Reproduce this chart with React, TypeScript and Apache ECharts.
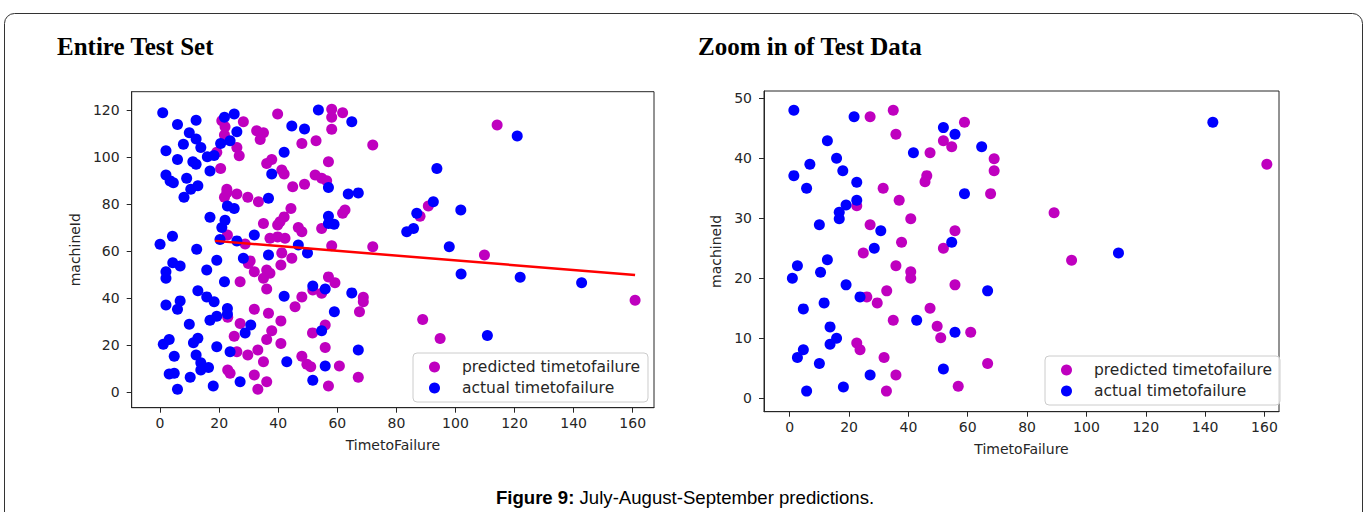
import React, { useEffect, useRef } from "react";
import * as echarts from "echarts";

// ---------- data ----------
const seriesNames = ["predicted timetofailure", "actual timetofailure"];
const xAxisName = "TimetoFailure";
const yAxisName = "machineId";
const leftTitle = "Entire Test Set";
const rightTitle = "Zoom in of Test Data";
const captionBold = "Figure 9:";
const captionText = " July-August-September predictions.";

const xTicks = [0, 20, 40, 60, 80, 100, 120, 140, 160];
const leftYTicks = [0, 20, 40, 60, 80, 100, 120];
const rightYTicks = [0, 10, 20, 30, 40, 50];

const leftPredicted = [
  [20.9, 115.5], [22, 112.9], [28.2, 115], [39.8, 118.3], [21.8, 109.4], [32.7, 111.2], [35, 110.4],
  [33.9, 107.5], [26, 104.1], [26.8, 100.6], [48, 105.8], [19.2, 102.1], [37.8, 99], [36.1, 97.3],
  [20.5, 95.2], [41.2, 94.5], [42, 92.8], [44.9, 87.4], [48.9, 88.5], [22.6, 86.3], [21.8, 82.9],
  [22.6, 84.9], [26, 84.3], [29.7, 82.9], [33.3, 81], [44.3, 78.2], [42, 74.6], [40.6, 72.5],
  [39.8, 71.1], [35, 71.8], [46.8, 70.1], [48, 68.3], [22.8, 66.9], [37.2, 65.5], [39.8, 66.1],
  [42.3, 65.5], [28.8, 63.1],
  [30.5, 55.9], [29.9, 54.8], [41.2, 59.3], [44.6, 57], [40.9, 54.1], [31.9, 51.3], [36.1, 52],
  [37.2, 50.6], [35, 48.5], [27.1, 47], [36.1, 43.9], [48, 40.6], [45.7, 36.4], [31.9, 35.3],
  [36.7, 33.6], [22.9, 31.9], [27.1, 29.3], [40.9, 30.4], [37.8, 26.2], [25.1, 23.9], [36.1, 22.5],
  [40.9, 20.8], [26, 17.3], [29.7, 15.9], [33.1, 18], [35, 13], [48, 15.4], [49.7, 12], [22.9, 9.5],
  [23.7, 8.1], [31.9, 7.4], [36.1, 4.5], [33.1, 1.3],
  [58.1, 120.3], [58.1, 116.9], [61.8, 118.9], [58.1, 111.8], [52.8, 107], [72, 105.1], [57, 98],
  [52.5, 92.4], [54.7, 91], [56.4, 90], [62.6, 77.5], [61.8, 76.1], [54.7, 69.7], [90.8, 79.2],
  [88, 74.9], [58.1, 62.3], [72, 61.9],
  [109.8, 58.4], [160.8, 39.2], [57, 49.1], [59.2, 46.6], [51.7, 43.5], [54.7, 42.1], [68.8, 40.4],
  [68.8, 38.5], [67.5, 34.3], [88.9, 31], [94.8, 22.9], [55.9, 28.6], [51.6, 25.3], [55.9, 19.1],
  [51, 10.9], [60.7, 11.2], [57, 2.7], [67.1, 6.4], [114.1, 113.6],
];

const leftActual = [
  [0.9, 118.9], [5.9, 113.9], [12.2, 115.7], [21.8, 116.9], [25.1, 118.3], [44.6, 113.2], [48.9, 111.9],
  [9.9, 110.4], [12.2, 107.7], [26, 110.8], [7.9, 105.5], [13.8, 104.1], [20.5, 105.8], [23.7, 107],
  [2, 102.7], [42, 102.1], [16, 100.2], [18.3, 100.7], [5.9, 99], [11.1, 98], [12.2, 97], [16.9, 94.1],
  [37.8, 92.8], [2, 92.4], [3.4, 89.9], [4.5, 89.1], [9, 91], [12.8, 87.8], [10.4, 86.3], [8.1, 82.9],
  [36.7, 82.5], [22.8, 79.2], [25.1, 78.2], [16.9, 74.4], [22, 73.2], [20.9, 70.1], [31.9, 66.9],
  [4.2, 66.4], [0, 63], [20.3, 65], [26, 64.4], [12.4, 60.8], [46.8, 62.6],
  [19.2, 56.2], [28.2, 57], [36.7, 58.4], [4.3, 55.1], [6.8, 53.7], [2, 51.3], [2, 48.5], [15.8, 52],
  [21.8, 47], [12.8, 43.2], [15.8, 40.6], [18.3, 38.5], [42, 40.9], [2, 37.1], [6.8, 38.9], [5.9, 35.3],
  [22.8, 35.7], [22.8, 33.3], [19.2, 32.4], [16.9, 30.7], [9.9, 29], [30.7, 28.6], [28.8, 25.3],
  [3.1, 22.5], [1.1, 20.5], [12.8, 23], [11.3, 21.1], [19.2, 19.4], [23.7, 17.3], [4.8, 15.4],
  [12.2, 15.9], [13.8, 12.6], [16.4, 10.6], [13.8, 9.5], [42.9, 13], [3.1, 7.8], [4.8, 8.1], [10.2, 6.4],
  [27.1, 4.5], [5.9, 1.3], [18, 2.7],
  [53.6, 120], [64.9, 115], [57, 87.1], [63.7, 84.3], [67.1, 84.8], [57, 74.9], [57, 71.8], [58.9, 71.5],
  [93.7, 95.2], [92.5, 81], [86.9, 76.1], [101.8, 77.5], [85.8, 69.7], [83.5, 68.3], [97.9, 61.9],
  [49.9, 59.3], [101.9, 50.3], [121.9, 48.9], [142.7, 46.6], [51.7, 45.2], [55.9, 43.9], [64.9, 42.3],
  [59, 34.3], [110.8, 24.2], [54.7, 26.2], [67.1, 18], [55.9, 11.2], [51.7, 5.2], [120.9, 109],
];

const regressionX = [18.6, 160.8];
const regressionY = [64.4, 49.9];

const rightPredicted = [
  [27.1, 46.9], [34.9, 48], [35.8, 44], [47.3, 40.9], [46.2, 37.1], [45.6, 36.1], [31.5, 35], [36.9, 33],
  [22.6, 32.1], [40.8, 29.9], [27.1, 28.9], [37.7, 26], [24.8, 24.2], [35.8, 22.1], [40.8, 21.1],
  [40.8, 20], [32.7, 17.9], [26, 16.9], [29.5, 15.9], [47.3, 15], [34.9, 13], [22.6, 9.2], [23.7, 8.1],
  [31.8, 6.8], [35.8, 3.9], [32.6, 1.2], [58.9, 46], [51.8, 42.9], [54.6, 41.9], [68.9, 39.9],
  [68.9, 37.9], [67.7, 34.1], [89.1, 30.9], [55.7, 27.9], [51.8, 25], [160.8, 39], [95, 23],
  [55.7, 18.9], [49.7, 12], [50.9, 10.1], [61, 11], [66.7, 5.8], [56.8, 2],
];

const rightActual = [
  [1.4, 48], [21.7, 46.9], [12.7, 42.9], [41.7, 40.9], [15.8, 40], [6.8, 39], [17.9, 37.9], [1.4, 37.1],
  [22.6, 36], [5.7, 35], [22.6, 33], [19, 32.2], [16.7, 31], [16.7, 29.9], [10, 28.9], [30.7, 27.9],
  [28.5, 25], [2.6, 22.1], [0.9, 20], [12.7, 23.1], [10.4, 21], [19, 18.9], [23.7, 16.9], [4.6, 14.9],
  [11.6, 15.9], [42.8, 13], [13.6, 11.9], [15.8, 10], [13.6, 9], [4.6, 8.1], [2.6, 6.8], [10, 5.8],
  [27.1, 3.9], [18.1, 1.9], [5.7, 1.2], [51.8, 45.1], [55.7, 44], [64.7, 41.9], [58.9, 34.1],
  [54.6, 26], [110.8, 24.2], [142.6, 46], [66.7, 17.9], [55.7, 11], [51.8, 4.9],
];

// ---------- styling ----------
const MAGENTA = "#bf00bf";
const BLUE = "#0000ff";
const RED = "#ff0000";
const INK = "#262626";
const FONT = "DejaVu Sans";

function makeXAxis(gridIndex: number, min: number, max: number) {
  return {
    type: "value",
    gridIndex,
    min,
    max,
    name: xAxisName,
    nameLocation: "middle",
    nameGap: 30,
    nameTextStyle: { fontFamily: FONT, fontSize: 14, color: INK },
    axisLine: { show: true, onZero: false, lineStyle: { color: INK, width: 1 } },
    axisTick: { show: true, length: 5, customValues: xTicks, lineStyle: { color: INK, width: 1 } },
    axisLabel: { customValues: xTicks, fontFamily: FONT, fontSize: 14, color: INK, margin: 8 },
    splitLine: { show: false },
  };
}

function makeYAxis(gridIndex: number, min: number, max: number, ticks: number[], nameGap: number) {
  return {
    type: "value",
    gridIndex,
    min,
    max,
    name: yAxisName,
    nameLocation: "middle",
    nameGap,
    nameTextStyle: { fontFamily: FONT, fontSize: 14, color: INK },
    axisLine: { show: true, onZero: false, lineStyle: { color: INK, width: 1 } },
    axisTick: { show: true, length: 5, customValues: ticks, lineStyle: { color: INK, width: 1 } },
    axisLabel: { customValues: ticks, fontFamily: FONT, fontSize: 14, color: INK, margin: 12 },
    splitLine: { show: false },
  };
}

function makeLegend(left: number, top: number) {
  return {
    data: seriesNames,
    orient: "vertical",
    left,
    top,
    icon: "circle",
    itemWidth: 11,
    itemHeight: 11,
    itemGap: 3,
    padding: [5, 8, 5, 16],
    borderColor: "#cccccc",
    borderWidth: 1,
    borderRadius: 4,
    backgroundColor: "rgba(255,255,255,0.8)",
    selectedMode: false,
    formatter: (name: string) => "{g|}" + name,
    textStyle: {
      fontFamily: FONT,
      fontSize: 15.5,
      color: INK,
      lineHeight: 18,
      rich: { g: { width: 17 } },
    },
  };
}

function scatter(name: string, data: number[][], color: string, axisIndex: number, z: number) {
  return {
    type: "scatter",
    name,
    data,
    xAxisIndex: axisIndex,
    yAxisIndex: axisIndex,
    symbol: "circle",
    symbolSize: 11,
    itemStyle: { color, opacity: 1 },
    z,
  };
}

export default function App() {
  const ref = useRef<HTMLDivElement>(null);

  useEffect(() => {
    if (!ref.current) return;
    const chart = echarts.init(ref.current, null, { renderer: "svg" });
    chart.setOption({
      animation: false,
      backgroundColor: "#ffffff",
      grid: [
        { left: 131.7, top: 91.7, width: 522.3, height: 316, show: true, borderColor: INK, borderWidth: 1, backgroundColor: "transparent" },
        { left: 764, top: 91, width: 515, height: 320.7, show: true, borderColor: INK, borderWidth: 1, backgroundColor: "transparent" },
      ],
      xAxis: [makeXAxis(0, -9.6, 167.2), makeXAxis(1, -8.66, 164.9)],
      yAxis: [makeYAxis(0, -6.5, 127.8, leftYTicks, 50), makeYAxis(1, -2.23, 51.2, rightYTicks, 41)],
      legend: [makeLegend(413, 353), makeLegend(1045, 356)],
      series: [
        scatter(seriesNames[0], leftPredicted, MAGENTA, 0, 2),
        scatter(seriesNames[1], leftActual, BLUE, 0, 3),
        {
          type: "line",
          name: "regression",
          xAxisIndex: 0,
          yAxisIndex: 0,
          data: regressionX.map((x, i) => [x, regressionY[i]]),
          symbol: "none",
          lineStyle: { color: RED, width: 2.5 },
          itemStyle: { color: RED },
          z: 4,
        },
        scatter(seriesNames[0], rightPredicted, MAGENTA, 1, 2),
        scatter(seriesNames[1], rightActual, BLUE, 1, 3),
      ],
      graphic: [
        {
          type: "rect",
          shape: { x: 4.5, y: 13.5, width: 1358, height: 530, r: 10 },
          style: { fill: "none", stroke: "#333", lineWidth: 1 },
          silent: true,
        },
        {
          type: "text",
          x: 57,
          y: 46,
          style: {
            text: leftTitle,
            fontFamily: "Liberation Serif",
            fontWeight: "bold",
            fontSize: 25,
            fill: "#000",
            verticalAlign: "middle",
          },
        },
        {
          type: "text",
          x: 698,
          y: 46,
          style: {
            text: rightTitle,
            fontFamily: "Liberation Serif",
            fontWeight: "bold",
            fontSize: 25,
            fill: "#000",
            verticalAlign: "middle",
          },
        },
        {
          type: "text",
          x: 685,
          y: 497,
          style: {
            text: "{b|" + captionBold + "}" + captionText,
            fontFamily: "Liberation Sans",
            fontSize: 18.6,
            fill: "#000",
            align: "center",
            verticalAlign: "middle",
            rich: {
              b: { fontFamily: "Liberation Sans", fontWeight: "bold", fontSize: 18.6, fill: "#000" },
            },
          },
        },
      ],
    });
    return () => chart.dispose();
  }, []);

  return (
    <div
      ref={ref}
      style={{ position: "fixed", left: 0, top: 0, width: 1368, height: 512, background: "#fff" }}
    />
  );
}
